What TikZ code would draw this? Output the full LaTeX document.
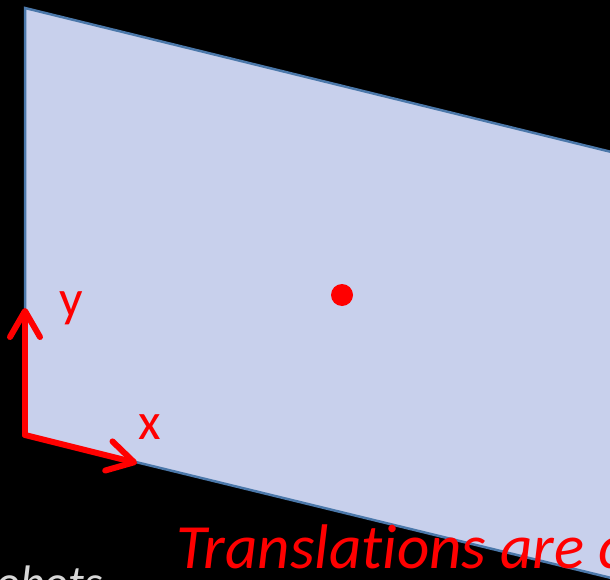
\documentclass[tikz,border=0pt]{standalone}
\usepackage{fontspec}
\setmainfont{Carlito}[Ligatures=NoCommon]
\usetikzlibrary{arrows.meta}
\definecolor{planefill}{RGB}{200,208,236}
\definecolor{planeedge}{RGB}{75,120,170}
\definecolor{notegray}{RGB}{215,215,215}
\tikzset{
  axis/.style={red, line width=6pt, line cap=round, line join=round,
    -{Straight Barb[length=26pt, width=30pt, line width=6pt, round]}},
  axislabel/.style={red, font=\fontsize{52}{52}\selectfont, inner sep=0pt},
}
\begin{document}
\begin{tikzpicture}[x=1pt, y=-1pt]
        \useasboundingbox (0,0) rectangle (610,580);
        \fill[black] (0,0) rectangle (610,580);
        \begin{scope}
            \clip (0,0) rectangle (610,580);
            \fill[planefill, draw=planeedge, line width=2.5pt]
                (25,8) -- (640,159) -- (640,585) -- (25,435) -- cycle;
            \coordinate (o) at (25,435);
            \coordinate (xend) at (137,463);
            \coordinate (yend) at (25,308);
            \draw[axis] (o) -- (xend);
            \draw[axis] (o) -- (yend);
            \node[axislabel, anchor=base] (ylab) at (71,316) {y};
            \node[axislabel, anchor=base] (xlab) at (150,439) {x};
            \fill[red] (342,295) circle[radius=11];
            \node[red, anchor=base west, inner sep=0pt, font=\fontsize{63}{63}\selectfont\itshape]
                (note) at (176,568) {Translations are c};
            \node[notegray, anchor=base west, inner sep=0pt, font=\fontsize{47}{47}\selectfont\itshape]
                (robots) at (-4,598) {obots};
        \end{scope}
        \end{tikzpicture}
\end{document}
